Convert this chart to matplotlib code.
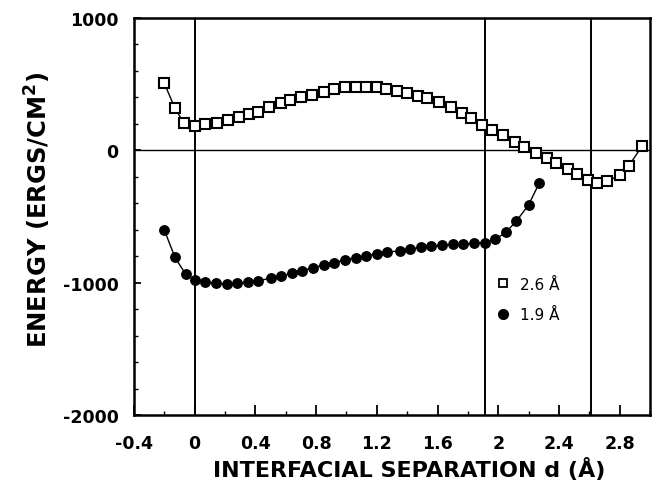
import matplotlib
matplotlib.use("Agg")
import matplotlib.pyplot as plt
from matplotlib.lines import Line2D
from matplotlib.ticker import MultipleLocator

# squares, 2.6 A
d_26 = [-0.20, -0.13, -0.07, 0.00, 0.07, 0.15, 0.22, 0.29, 0.36, 0.42,
        0.49, 0.57, 0.63, 0.70, 0.77, 0.85, 0.92, 0.99, 1.06, 1.13,
        1.20, 1.26, 1.33, 1.40, 1.47, 1.53, 1.61, 1.69, 1.76, 1.82,
        1.89, 1.96, 2.03, 2.11, 2.17, 2.25, 2.32, 2.38, 2.46, 2.52,
        2.59, 2.65, 2.72, 2.80, 2.86, 2.95]
e_26 = [506, 318, 204, 184, 197, 209, 229, 249, 274, 292,
        325, 355, 380, 405, 418, 444, 463, 476, 481, 481,
        476, 463, 448, 431, 413, 393, 363, 330, 283, 242,
        191, 153, 116, 66, 28, -17, -60, -98, -144, -181,
        -224, -250, -234, -188, -118, 35]

# filled circles, 1.9 A
d_19 = [-0.20, -0.13, -0.06, 0.00, 0.07, 0.14, 0.21, 0.28, 0.35, 0.42,
        0.50, 0.57, 0.64, 0.71, 0.78, 0.85, 0.92, 0.99, 1.06, 1.13,
        1.20, 1.27, 1.35, 1.42, 1.49, 1.56, 1.63, 1.70, 1.77, 1.84,
        1.91, 1.98, 2.05, 2.12, 2.20, 2.27]
e_19 = [-602, -809, -935, -980, -998, -1005, -1011, -1005, -998, -985,
        -967, -950, -930, -909, -887, -867, -849, -829, -811, -796,
        -784, -771, -758, -746, -733, -723, -716, -711, -708, -703,
        -698, -673, -620, -534, -413, -249]

v_lines = [0.0, 1.91, 2.61]
x_ticks = [-0.4, 0, 0.4, 0.8, 1.2, 1.6, 2, 2.4, 2.8]
x_tick_labels = ['-0.4', '0', '0.4', '0.8', '1.2', '1.6', '2', '2.4', '2.8']
y_ticks = [-2000, -1000, 0, 1000]
series_labels = ['2.6 Å', '1.9 Å']

plt.rcParams['font.family'] = ['DejaVu Sans']
plt.rcParams['axes.unicode_minus'] = False

fig = plt.figure(figsize=(6.58, 4.89), dpi=100)
ax = fig.add_axes([0.2036, 0.1493, 0.7842, 0.8119])

for xv in v_lines:
    ax.axvline(xv, color='black', linewidth=1.4, zorder=1)
ax.axhline(0, color='black', linewidth=1.0, zorder=1)

ax.plot(d_26, e_26, color='black', linewidth=1.0, marker='s', markersize=6.8,
        markerfacecolor='white', markeredgecolor='black', markeredgewidth=1.5, zorder=3)
ax.plot(d_19, e_19, color='black', linewidth=1.0, marker='o', markersize=6.8,
        markerfacecolor='black', markeredgecolor='black', zorder=3)

ax.set_xlim(-0.4, 3.0)
ax.set_ylim(-2000, 1000)
ax.set_xticks(x_ticks)
ax.set_xticklabels(x_tick_labels)
ax.set_yticks(y_ticks)
ax.xaxis.set_minor_locator(MultipleLocator(0.2))
ax.yaxis.set_minor_locator(MultipleLocator(200))

ax.tick_params(axis='both', which='both', direction='in', top=False, right=False)
ax.tick_params(axis='x', which='major', length=7, width=1.3, pad=14, labelsize=12.5)
ax.tick_params(axis='y', which='major', length=5, width=1.3, pad=11, labelsize=12.5)
ax.tick_params(axis='both', which='minor', length=3, width=1.0)
for lab in ax.get_xticklabels() + ax.get_yticklabels():
    lab.set_fontweight('bold')

for sp in ax.spines.values():
    sp.set_linewidth(1.8)

ax.set_xlabel('INTERFACIAL SEPARATION d (Å)', fontsize=16, fontweight='bold', va='center')
ax.xaxis.set_label_coords(0.533, -0.136)
ax.set_ylabel(r'ENERGY (ERGS/CM$^{\mathbf{2}}$)', fontsize=17.5, fontweight='bold', va='center')
ax.yaxis.set_label_coords(-0.186, 0.52)

handles = [Line2D([], [], linestyle='none', marker='s', markersize=6, markerfacecolor='white',
                  markeredgecolor='black', markeredgewidth=1.3),
           Line2D([], [], linestyle='none', marker='o', markersize=7, color='black')]
ax.legend(handles, series_labels, loc='center left', bbox_to_anchor=(0.70, 0.291),
          frameon=False, fontsize=11, handlelength=1.0, handletextpad=0.6,
          labelspacing=1.0, borderpad=0, borderaxespad=0)

plt.savefig('out.png', dpi=100)
